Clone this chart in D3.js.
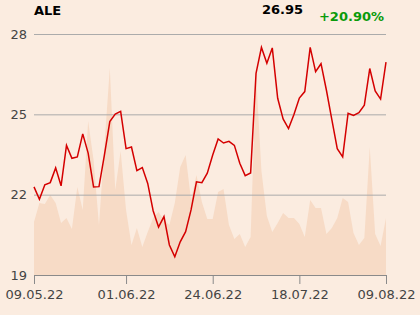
<!DOCTYPE html>
<html>
<head>
<meta charset="utf-8">
<script src="https://cdn.jsdelivr.net/npm/d3@7"></script>
<style>
  html, body { margin: 0; padding: 0; background: #fbece0; }
  svg { display: block; font-family: "DejaVu Sans", sans-serif; }
</style>
</head>
<body>
<div id="chart"></div>
<script>
// trading days (WSE), 09.05.22 - 09.08.22
const dates = [
  "09.05.22", "10.05.22", "11.05.22", "12.05.22", "13.05.22", "16.05.22", "17.05.22", "18.05.22",
  "19.05.22", "20.05.22", "23.05.22", "24.05.22", "25.05.22", "26.05.22", "27.05.22", "30.05.22",
  "31.05.22", "01.06.22", "02.06.22", "03.06.22", "06.06.22", "07.06.22", "08.06.22", "09.06.22",
  "10.06.22", "13.06.22", "14.06.22", "15.06.22", "17.06.22", "20.06.22", "21.06.22", "22.06.22",
  "23.06.22", "24.06.22", "27.06.22", "28.06.22", "29.06.22", "30.06.22", "01.07.22", "04.07.22",
  "05.07.22", "06.07.22", "07.07.22", "08.07.22", "11.07.22", "12.07.22", "13.07.22", "14.07.22",
  "15.07.22", "18.07.22", "19.07.22", "20.07.22", "21.07.22", "22.07.22", "25.07.22", "26.07.22",
  "27.07.22", "28.07.22", "29.07.22", "01.08.22", "02.08.22", "03.08.22", "04.08.22", "05.08.22",
  "08.08.22", "09.08.22"
];

const closePrices = [
  22.29, 21.83, 22.37, 22.45, 23.00, 22.33, 23.84, 23.36, 23.41, 24.27,
  23.55, 22.29, 22.30, 23.48, 24.73, 25.01, 25.11, 23.72, 23.78, 22.90,
  23.01, 22.42, 21.40, 20.79, 21.18, 20.12, 19.68, 20.24, 20.62, 21.43,
  22.48, 22.45, 22.80, 23.48, 24.08, 23.93, 23.99, 23.84, 23.17, 22.71,
  22.81, 26.53, 27.50, 26.91, 27.48, 25.60, 24.83, 24.47, 24.99, 25.61,
  25.85, 27.50, 26.59, 26.89, 25.90, 24.80, 23.72, 23.41, 25.04, 24.96,
  25.06, 25.34, 26.71, 25.87, 25.57, 26.95
];

// volume (relative units)
const volumes = [
  53, 72, 71, 80, 72, 52, 57, 46, 88, 65,
  154, 115, 50, 129, 207, 85, 124, 65, 30, 47,
  28, 43, 57, 63, 55, 50, 72, 108, 120, 75,
  100, 73, 56, 56, 83, 86, 50, 36, 41, 28,
  38, 201, 104, 59, 43, 52, 62, 57, 57, 51,
  38, 75, 67, 67, 41, 47, 57, 77, 73, 42,
  30, 37, 128, 41, 29, 57
];

const yTicks = [19, 22, 25, 28];
const xTickLabels = ["09.05.22", "01.06.22", "24.06.22", "18.07.22", "09.08.22"];

const ticker = "ALE";
const lastPrice = "26.95";
const change = "+20.90%";

// MARGIN, WIDTH, HEIGHT
const svgWidth = 420;
const svgHeight = 315;
const margin = { top: 34, right: 34, bottom: 40, left: 34 };
const width = svgWidth - margin.left - margin.right;
const height = svgHeight - margin.top - margin.bottom;

const svg = d3.select("#chart")
  .append("svg")
  .attr("width", svgWidth)
  .attr("height", svgHeight);

svg.append("rect")
  .attr("width", svgWidth)
  .attr("height", svgHeight)
  .attr("fill", "#fbece0");

const g = svg.append("g")
  .attr("transform", `translate(${margin.left},${margin.top})`);

// SCALES
const xScale = d3.scalePoint().domain(dates).range([0, width]);
const yScale = d3.scaleLinear().domain([19, 28]).range([height, 0]);
const volScale = d3.scaleLinear().domain([0, 230]).range([height, height - 230]);

// VOLUME AREA
const area = d3.area()
  .x((d, i) => xScale(dates[i]))
  .y0(height)
  .y1(d => volScale(d));

g.append("path")
  .datum(volumes)
  .attr("d", area)
  .attr("fill", "#f7dbc6");

// GRID LINES
g.selectAll(".grid")
  .data(yTicks.filter(t => t !== 19))
  .enter()
  .append("line")
  .attr("class", "grid")
  .attr("x1", 0)
  .attr("x2", width)
  .attr("y1", d => yScale(d) + 0.5)
  .attr("y2", d => yScale(d) + 0.5)
  .attr("stroke", "#ababab")
  .attr("stroke-width", 1);

// Y AXIS (labels only)
const yAxis = d3.axisLeft(yScale)
  .tickValues(yTicks)
  .tickSize(0)
  .tickPadding(7)
  .tickFormat(d3.format("d"));

const yAxisG = g.append("g").call(yAxis);
yAxisG.select(".domain").remove();
yAxisG.selectAll("text")
  .attr("fill", "#444")
  .style("font-size", "13px")
  .style("font-family", "DejaVu Sans, sans-serif");

// X AXIS
const xAxis = d3.axisBottom(xScale)
  .tickValues(xTickLabels)
  .tickSize(9)
  .tickSizeOuter(0)
  .tickPadding(6);

const xAxisG = g.append("g")
  .attr("transform", `translate(0,${height})`)
  .call(xAxis);
xAxisG.select(".domain").attr("stroke", "#8a8a8a");
xAxisG.selectAll(".tick line").attr("stroke", "#8a8a8a");
xAxisG.selectAll("text")
  .attr("fill", "#444")
  .style("font-size", "13px")
  .style("font-family", "DejaVu Sans, sans-serif");

// PRICE LINE
const line = d3.line()
  .x((d, i) => xScale(dates[i]))
  .y(d => yScale(d));

g.append("path")
  .datum(closePrices)
  .attr("d", line)
  .attr("fill", "none")
  .attr("stroke", "#d40000")
  .attr("stroke-width", 1.5)
  .attr("stroke-linejoin", "miter");

// HEADER TEXTS
svg.append("text")
  .attr("x", 34)
  .attr("y", 15)
  .attr("font-weight", "bold")
  .attr("font-size", 13)
  .attr("fill", "#000")
  .text(ticker);

svg.append("text")
  .attr("x", 303)
  .attr("y", 14)
  .attr("text-anchor", "end")
  .attr("font-weight", "bold")
  .attr("font-size", 13)
  .attr("fill", "#000")
  .text(lastPrice);

svg.append("text")
  .attr("x", 384)
  .attr("y", 21)
  .attr("text-anchor", "end")
  .attr("font-weight", "bold")
  .attr("font-size", 13)
  .attr("fill", "#0a9a0a")
  .text(change);
</script>
</body>
</html>
